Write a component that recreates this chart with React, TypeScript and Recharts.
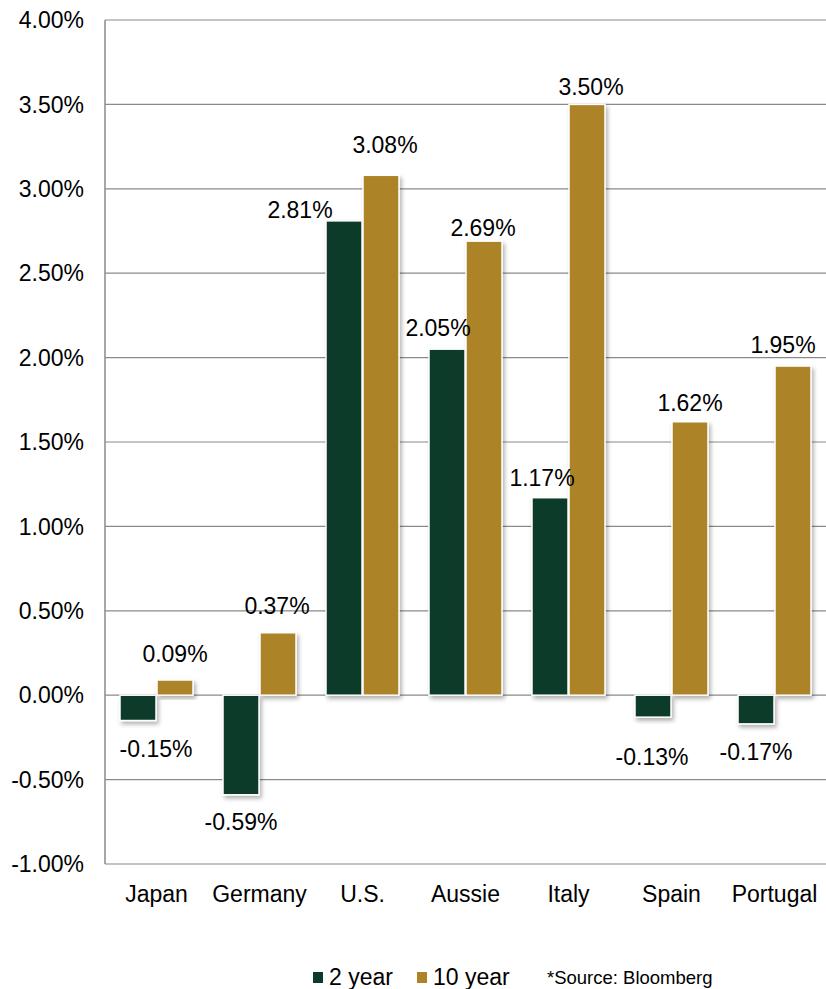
// Sovereign yields, 2y vs 10y. Excel-style grouped bars with white edges,
// soft drop shadow and hand-nudged data labels.
import React from "react";
import {
  Bar, BarChart, CartesianGrid, LabelList, XAxis, YAxis,
} from "recharts";

const COUNTRIES = ["Japan", "Germany", "U.S.", "Aussie", "Italy", "Spain", "Portugal"];
const YIELD_2Y = [-0.15, -0.59, 2.81, 2.05, 1.17, -0.13, -0.17];
const YIELD_10Y = [0.09, 0.37, 3.08, 2.69, 3.5, 1.62, 1.95];
const Y_TICKS = [-1, -0.5, 0, 0.5, 1, 1.5, 2, 2.5, 3, 3.5, 4];

// label nudges (px) relative to the bar end, as placed in the original
const NUDGE_DX_2Y = [18, 0, -44, -9, -8, -1, 0];
const NUDGE_DY_2Y = [28, 27, -11, -21, -20, 40, 28];
const NUDGE_DX_10Y = [0, -1, 4, -1, 4, 0, -10];
const NUDGE_DY_10Y = [-26, -27, -31, -13, -18, -19, -21];

const GREEN = "#0C3A2C";
const GOLD = "#AC8326";
const GRID = "#8A8A8A";
const FONT = '"Liberation Sans", Arial, sans-serif';
const FS = 23;

const rows = COUNTRIES.map((c, i) => ({ c, y2: YIELD_2Y[i], y10: YIELD_10Y[i] }));

const fmt = (v: number) => `${v.toFixed(2)}%`;

function ShadowBar(props: any) {
  const { x, y, width, height, fill } = props;
  const top = Math.min(y, y + height);
  const h = Math.abs(height);
  return (
    <rect
      x={x} y={top} width={width} height={h}
      fill={fill} stroke="#fff" strokeWidth={1.5}
      filter="url(#barShadow)"
    />
  );
}

function makeLabel(dxs: number[], dys: number[]) {
  return (props: any) => {
    const { x, y, width, height, value, index } = props;
    const top = Math.min(y, y + height);
    const bottom = Math.max(y, y + height);
    const anchor = value < 0 ? bottom : top;
    const cx = x + width / 2 + dxs[index];
    const cy = anchor + dys[index];
    return (
      <text
        x={cx} y={cy + FS * 0.358} textAnchor="middle"
        fontSize={FS} fontFamily={FONT} fill="#000"
      >
        {fmt(value)}
      </text>
    );
  };
}

export default function App() {
  return (
    <div style={{ position: "absolute", left: 0, top: 0, width: 826, height: 989, background: "#fff", fontFamily: FONT }}>
      <BarChart
        width={826} height={989} data={rows}
        margin={{ top: 20, right: 0, bottom: 0, left: 0 }}
        barSize={36} barGap={1}
      >
        <defs>
          <filter id="barShadow" x="-20%" y="-20%" width="150%" height="150%">
            <feDropShadow dx="2" dy="3" stdDeviation="2" floodColor="#000" floodOpacity="0.3" />
          </filter>
        </defs>
        <CartesianGrid vertical={false} stroke={GRID} strokeWidth={1.2} />
        <XAxis
          dataKey="c" height={125} axisLine={false} tickLine={false} tickMargin={16}
          tick={{ fontSize: FS, fill: "#000", fontFamily: FONT }} interval={0}
        />
        <YAxis
          width={105} domain={[-1, 4]} ticks={Y_TICKS} tickFormatter={fmt}
          axisLine={{ stroke: GRID, strokeWidth: 1.5 }} tickLine={false} tickMargin={15}
          tick={{ fontSize: FS, fill: "#000", fontFamily: FONT }} interval={0}
        />
        <Bar dataKey="y2" fill={GREEN} shape={ShadowBar} isAnimationActive={false}>
          <LabelList dataKey="y2" content={makeLabel(NUDGE_DX_2Y, NUDGE_DY_2Y)} />
        </Bar>
        <Bar dataKey="y10" fill={GOLD} shape={ShadowBar} isAnimationActive={false}>
          <LabelList dataKey="y10" content={makeLabel(NUDGE_DX_10Y, NUDGE_DY_10Y)} />
        </Bar>
      </BarChart>

      {/* legend + source note */}
      <div style={{ position: "absolute", left: 313, top: 972, width: 10, height: 11, background: GREEN }} />
      <div style={{ position: "absolute", left: 329, top: 965.5, fontSize: FS, lineHeight: 1, color: "#000", whiteSpace: "nowrap" }}>2 year</div>
      <div style={{ position: "absolute", left: 417, top: 972, width: 10, height: 11, background: GOLD }} />
      <div style={{ position: "absolute", left: 433, top: 965.5, fontSize: FS, lineHeight: 1, color: "#000", whiteSpace: "nowrap" }}>10 year</div>
      <div style={{ position: "absolute", left: 547, top: 969.3, fontSize: 18.5, lineHeight: 1, color: "#000", whiteSpace: "nowrap" }}>*Source: Bloomberg</div>
    </div>
  );
}
